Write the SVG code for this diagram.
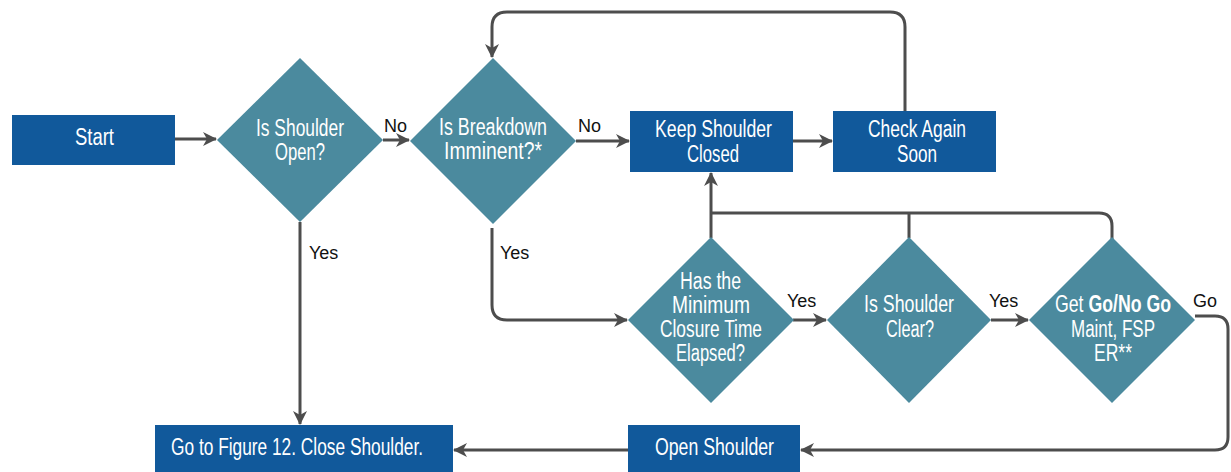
<svg xmlns="http://www.w3.org/2000/svg" width="1231" height="472" viewBox="0 0 1231 472">
<style>
.box{fill:#11599B}
.dia{fill:#4B8A9E}
.nt{font-family:"Liberation Sans",Arial,sans-serif;font-size:23px;fill:#ffffff}
.b{font-weight:bold}
.lb{font-family:"Liberation Sans",Arial,sans-serif;font-size:18px;fill:#111111}
.ln{fill:none;stroke:#4D4D4D;stroke-width:3}
.ar{marker-end:url(#ah)}
</style>
<defs>
<marker id="ah" markerUnits="userSpaceOnUse" markerWidth="14" markerHeight="14" viewBox="0 0 14 14" refX="13" refY="7" orient="auto">
<path d="M0,0 L14,7 L0,14 L4,7 Z" fill="#4D4D4D"/>
</marker>
</defs>
<rect width="1231" height="472" fill="#ffffff"/>
<g id="connectors">
<path class="ln ar" d="M175,139 H216"/>
<path class="ln ar" d="M383,140 H409"/>
<path class="ln ar" d="M576,141 H629"/>
<path class="ln ar" d="M793,141 H832"/>
<path class="ln ar" d="M905,111 V27 Q905,12 890,12 H507 Q492,12 492,27 V57"/>
<path class="ln ar" d="M300,222 V424"/>
<path class="ln ar" d="M492,228 V305 Q492,320 507,320 H627"/>
<path class="ln ar" d="M793,320 H826"/>
<path class="ln ar" d="M991,320 H1028"/>
<path class="ln ar" d="M711,238 V173"/>
<path class="ln" d="M711,213 H1099 Q1112,213 1112,226 V243"/>
<path class="ln" d="M909,238 V213"/>
<path class="ln ar" d="M1195,316 H1215 Q1228,316 1228,329 V437 Q1228,450 1215,450 H801"/>
<path class="ln ar" d="M628,450 H454"/>
<text class="lb" x="384" y="132">No</text>
<text class="lb" x="578" y="132">No</text>
<text class="lb" x="309" y="259">Yes</text>
<text class="lb" x="500" y="259">Yes</text>
<text class="lb" x="787" y="307">Yes</text>
<text class="lb" x="989" y="307">Yes</text>
<text class="lb" x="1193" y="307">Go</text>
</g>
<g id="start">
<rect class="box" x="12" y="115" width="163" height="50"/>
<text class="nt" x="75" y="145" textLength="39" lengthAdjust="spacingAndGlyphs">Start</text>
</g>
<g id="is-shoulder-open">
<polygon class="dia" points="300,58 383,140 300,222 217,140"/>
<text class="nt" x="256" y="136" textLength="88" lengthAdjust="spacingAndGlyphs">Is Shoulder</text>
<text class="nt" x="275" y="160" textLength="50" lengthAdjust="spacingAndGlyphs">Open?</text>
</g>
<g id="is-breakdown-imminent">
<polygon class="dia" points="493,58 576,141 493,224 410,141"/>
<text class="nt" x="439" y="135" textLength="108" lengthAdjust="spacingAndGlyphs">Is Breakdown</text>
<text class="nt" x="444" y="159" textLength="98" lengthAdjust="spacingAndGlyphs">Imminent?*</text>
</g>
<g id="keep-shoulder-closed">
<rect class="box" x="630" y="111" width="163" height="61"/>
<text class="nt" x="655" y="137" textLength="117" lengthAdjust="spacingAndGlyphs">Keep Shoulder</text>
<text class="nt" x="687" y="162" textLength="52" lengthAdjust="spacingAndGlyphs">Closed</text>
</g>
<g id="check-again-soon">
<rect class="box" x="833" y="111" width="163" height="61"/>
<text class="nt" x="868" y="137" textLength="98" lengthAdjust="spacingAndGlyphs">Check Again</text>
<text class="nt" x="897" y="162" textLength="40" lengthAdjust="spacingAndGlyphs">Soon</text>
</g>
<g id="minimum-closure-time">
<polygon class="dia" points="711,237 794,320 711,403 628,320"/>
<text class="nt" x="680" y="289" textLength="61" lengthAdjust="spacingAndGlyphs">Has the</text>
<text class="nt" x="672" y="313" textLength="78" lengthAdjust="spacingAndGlyphs">Minimum</text>
<text class="nt" x="660" y="337" textLength="102" lengthAdjust="spacingAndGlyphs">Closure Time</text>
<text class="nt" x="676" y="361" textLength="69" lengthAdjust="spacingAndGlyphs">Elapsed?</text>
</g>
<g id="is-shoulder-clear">
<polygon class="dia" points="909,237 991,320 909,403 827,320"/>
<text class="nt" x="864" y="312" textLength="90" lengthAdjust="spacingAndGlyphs">Is Shoulder</text>
<text class="nt" x="886" y="337" textLength="48" lengthAdjust="spacingAndGlyphs">Clear?</text>
</g>
<g id="get-go-no-go">
<polygon class="dia" points="1112,237 1195,320 1112,403 1029,320"/>
<text class="nt" transform="translate(1055,312) scale(0.77,1)" x="0" y="0">Get <tspan class="b">Go/No Go</tspan></text>
<text class="nt" x="1071" y="337" textLength="84" lengthAdjust="spacingAndGlyphs">Maint, FSP</text>
<text class="nt" x="1094" y="361" textLength="38" lengthAdjust="spacingAndGlyphs">ER**</text>
</g>
<g id="open-shoulder">
<rect class="box" x="628" y="425" width="172" height="47"/>
<text class="nt" x="655" y="455" textLength="119" lengthAdjust="spacingAndGlyphs">Open Shoulder</text>
</g>
<g id="go-to-figure-12">
<rect class="box" x="155" y="425" width="298" height="47"/>
<text class="nt" x="171" y="455" textLength="252" lengthAdjust="spacingAndGlyphs">Go to Figure 12. Close Shoulder.</text>
</g>
</svg>
